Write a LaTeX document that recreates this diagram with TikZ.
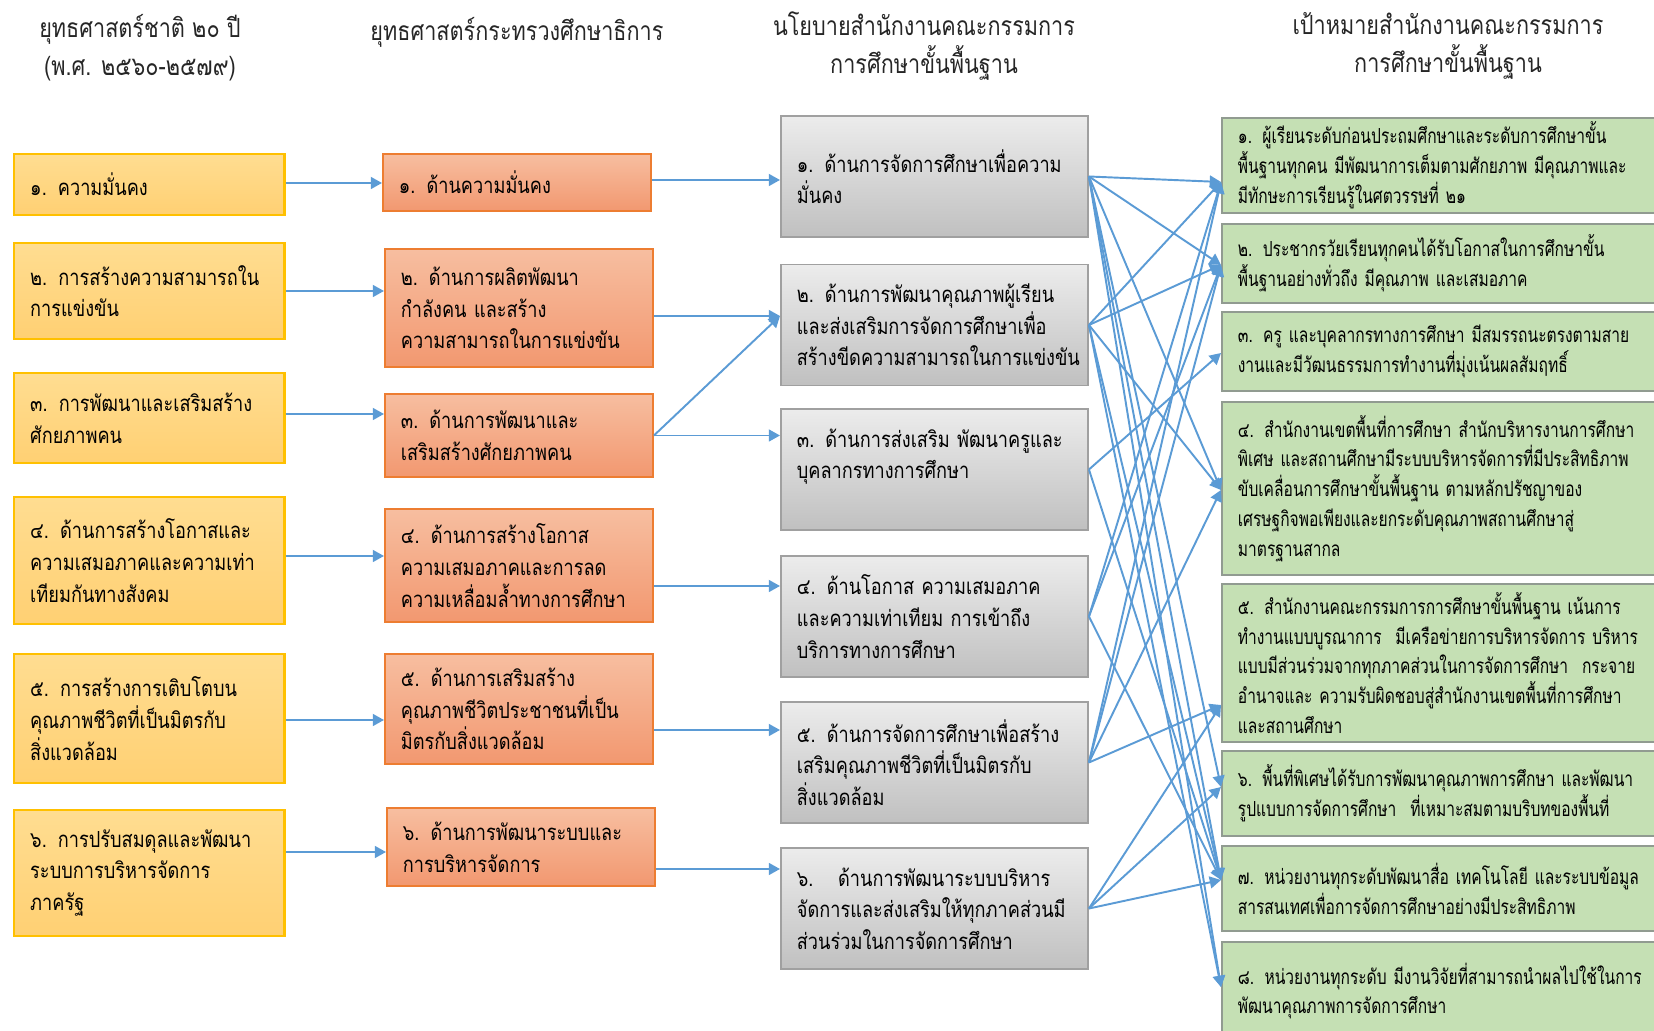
\documentclass[tikz,border=0pt]{standalone}
\usepackage{fontspec}
\setmainfont{Loma}[Script=Thai,FakeStretch=0.82]
\newfontfamily\goalfont[Script=Thai,FakeStretch=0.75]{Loma}
\usetikzlibrary{arrows.meta}

\definecolor{nattop}{RGB}{255,221,145}
\definecolor{natbot}{RGB}{255,208,115}
\definecolor{natline}{RGB}{255,192,0}
\definecolor{moetop}{RGB}{247,190,160}
\definecolor{moebot}{RGB}{242,152,112}
\definecolor{moeline}{RGB}{237,125,49}
\definecolor{poltop}{RGB}{236,236,236}
\definecolor{polbot}{RGB}{192,192,192}
\definecolor{polline}{RGB}{160,160,160}
\definecolor{goalfill}{RGB}{197,224,180}
\definecolor{goalline}{RGB}{145,155,145}
\definecolor{linkblue}{RGB}{91,155,213}

\tikzset{
  txt/.style={font=\fontsize{6.3}{9}\selectfont, align=left, inner xsep=0.16cm, inner ysep=1pt, anchor=west},
  head/.style={font=\fontsize{7.5}{10.8}\selectfont, align=center, text=black!85},
  natbox/.style={txt, draw=natline, line width=0.7pt, top color=nattop, bottom color=natbot, text width=2.38cm, minimum height=#1},
  moebox/.style={txt, draw=moeline, line width=0.5pt, top color=moetop, bottom color=moebot, text width=2.36cm, minimum height=#1},
  polbox/.style={txt, draw=polline, line width=0.5pt, top color=poltop, bottom color=polbot, text width=2.75cm, minimum height=1.21cm},
  goalbox/.style={txt, font=\goalfont\fontsize{5.9}{8.5}\selectfont, draw=goalline, line width=0.5pt, fill=goalfill, text width=4.28cm, minimum height=#1},
  link/.style={linkblue, line width=0.55pt, -{Triangle[length=3.2pt,width=3.4pt]}},
}

\begin{document}
\begin{tikzpicture}[x=0.01cm,y=-0.01cm]
	\useasboundingbox (0,0) rectangle (1654,1031);
	\clip (0,0) rectangle (1654,1031);
	% headings
	\node[head] (h1) at (140,48) {ยุทธศาสตร์ชาติ ๒๐ ปี\\(พ.ศ. ๒๕๖๐-๒๕๗๙)};
	\node[head] (h2) at (517,32) {ยุทธศาสตร์กระทรวงศึกษาธิการ};
	\node[head] (h3) at (924,46) {นโยบายสำนักงานคณะกรรมการ\\การศึกษาขั้นพื้นฐาน};
	\node[head] (h4) at (1448,46) {เป้าหมายสำนักงานคณะกรรมการ\\การศึกษาขั้นพื้นฐาน};

	% national strategy
	\node[natbox=0.61cm] (nat1) at (13,184.5) {๑. ความมั่นคง};
	\node[natbox=0.96cm] (nat2) at (13,291) {๒. การสร้างความสามารถใน\\การแข่งขัน};
	\node[natbox=0.90cm] (nat3) at (13,418) {๓. การพัฒนาและเสริมสร้าง\\ศักยภาพคน};
	\node[natbox=1.27cm] (nat4) at (13,560.5) {๔. ด้านการสร้างโอกาสและ\\ความเสมอภาคและความเท่า\\เทียมกันทางสังคม};
	\node[natbox=1.29cm] (nat5) at (13,718.5) {๕. การสร้างการเติบโตบน\\คุณภาพชีวิตที่เป็นมิตรกับ\\สิ่งแวดล้อม};
	\node[natbox=1.26cm] (nat6) at (13,873) {๖. การปรับสมดุลและพัฒนา\\ระบบการบริหารจัดการ\\ภาครัฐ};

	% ministry strategy
	\node[moebox=0.57cm] (moe1) at (382,182.5) {๑. ด้านความมั่นคง};
	\node[moebox=1.18cm] (moe2) at (384,308) {๒. ด้านการผลิตพัฒนา\\กำลังคน และสร้าง\\ความสามารถในการแข่งขัน};
	\node[moebox=0.83cm] (moe3) at (384,435.5) {๓. ด้านการพัฒนาและ\\เสริมสร้างศักยภาพคน};
	\node[moebox=1.13cm] (moe4) at (384,565.5) {๔. ด้านการสร้างโอกาส\\ความเสมอภาคและการลด\\ความเหลื่อมล้ำทางการศึกษา};
	\node[moebox=1.10cm] (moe5) at (384,709) {๕. ด้านการเสริมสร้าง\\คุณภาพชีวิตประชาชนที่เป็น\\มิตรกับสิ่งแวดล้อม};
	\node[moebox=0.78cm] (moe6) at (386,847) {๖. ด้านการพัฒนาระบบและ\\การบริหารจัดการ};

	% OBEC policy
	\node[polbox] (pol1) at (780,176.5) {๑. ด้านการจัดการศึกษาเพื่อความ\\มั่นคง};
	\node[polbox] (pol2) at (780,325) {๒. ด้านการพัฒนาคุณภาพผู้เรียน\\และส่งเสริมการจัดการศึกษาเพื่อ\\สร้างขีดความสามารถในการแข่งขัน};
	\node[polbox] (pol3) at (780,469.5) {๓. ด้านการส่งเสริม พัฒนาครูและ\\บุคลากรทางการศึกษา\\~};
	\node[polbox] (pol4) at (780,616.5) {๔. ด้านโอกาส ความเสมอภาค\\และความเท่าเทียม การเข้าถึง\\บริการทางการศึกษา};
	\node[polbox] (pol5) at (780,762.5) {๕. ด้านการจัดการศึกษาเพื่อสร้าง\\เสริมคุณภาพชีวิตที่เป็นมิตรกับ\\สิ่งแวดล้อม};
	\node[polbox] (pol6) at (780,908.5) {๖.\hspace{7pt}ด้านการพัฒนาระบบบริหาร\\จัดการและส่งเสริมให้ทุกภาคส่วนมี\\ส่วนร่วมในการจัดการศึกษา};

	% OBEC goals
	\node[goalbox=0.95cm] (goal1) at (1221,165.5) {๑. ผู้เรียนระดับก่อนประถมศึกษาและระดับการศึกษาขั้น\\พื้นฐานทุกคน มีพัฒนาการเต็มตามศักยภาพ มีคุณภาพและ\\มีทักษะการเรียนรู้ในศตวรรษที่ ๒๑};
	\node[goalbox=0.79cm] (goal2) at (1221,263.5) {๒. ประชากรวัยเรียนทุกคนได้รับโอกาสในการศึกษาขั้น\\พื้นฐานอย่างทั่วถึง มีคุณภาพ และเสมอภาค};
	\node[goalbox=0.79cm] (goal3) at (1221,351.5) {๓. ครู และบุคลากรทางการศึกษา มีสมรรถนะตรงตามสาย\\งานและมีวัฒนธรรมการทำงานที่มุ่งเน้นผลสัมฤทธิ์};
	\node[goalbox=1.73cm] (goal4) at (1221,488.5) {๔. สำนักงานเขตพื้นที่การศึกษา สำนักบริหารงานการศึกษา\\พิเศษ และสถานศึกษามีระบบบริหารจัดการที่มีประสิทธิภาพ\\ขับเคลื่อนการศึกษาขั้นพื้นฐาน ตามหลักปรัชญาของ\\เศรษฐกิจพอเพียงและยกระดับคุณภาพสถานศึกษาสู่\\มาตรฐานสากล};
	\node[goalbox=1.58cm] (goal5) at (1221,663) {๕. สำนักงานคณะกรรมการการศึกษาขั้นพื้นฐาน เน้นการ\\ทำงานแบบบูรณาการ\ \ มีเครือข่ายการบริหารจัดการ บริหาร\\แบบมีส่วนร่วมจากทุกภาคส่วนในการจัดการศึกษา\ \ กระจาย\\อำนาจและ ความรับผิดชอบสู่สำนักงานเขตพื้นที่การศึกษา\\และสถานศึกษา};
	\node[goalbox=0.85cm] (goal6) at (1221,793.5) {๖. พื้นที่พิเศษได้รับการพัฒนาคุณภาพการศึกษา และพัฒนา\\รูปแบบการจัดการศึกษา\ \ ที่เหมาะสมตามบริบทของพื้นที่};
	\node[goalbox=0.85cm] (goal7) at (1221,888.5) {๗. หน่วยงานทุกระดับพัฒนาสื่อ เทคโนโลยี และระบบข้อมูล\\สารสนเทศเพื่อการจัดการศึกษาอย่างมีประสิทธิภาพ};
	\node[goalbox=0.98cm] (goal8) at (1221,991) {๘. หน่วยงานทุกระดับ มีงานวิจัยที่สามารถนำผลไปใช้ในการ\\พัฒนาคุณภาพการจัดการศึกษา};

	% national -> ministry
	\draw[link] (nat1.east |- 0,183) -- (moe1.west |- 0,183);
	\draw[link] (nat2.east |- 0,291) -- (moe2.west |- 0,291);
	\draw[link] (nat3.east |- 0,414) -- (moe3.west |- 0,414);
	\draw[link] (nat4.east |- 0,556) -- (moe4.west |- 0,556);
	\draw[link] (nat5.east |- 0,720) -- (moe5.west |- 0,720);
	\draw[link] (nat6.east |- 0,852) -- (moe6.west |- 0,852);

	% ministry -> policy
	\draw[link] (moe1.east |- 0,180) -- (pol1.west |- 0,180);
	\draw[link] (moe2.east |- 0,316) -- (pol2.west |- 0,316);
	\draw[link] (moe3.east) -- (pol2.west |- 0,316);
	\draw[link] (moe3.east) -- (moe3.east -| pol3.west);
	\draw[link] (moe4.east |- 0,586) -- (pol4.west |- 0,586);
	\draw[link] (moe5.east |- 0,730) -- (pol5.west |- 0,730);
	\draw[link] (moe6.east |- 0,869) -- (pol6.west |- 0,869);

	% policy -> goals
	\coordinate (t1) at (goal1.west |- 0,182);
	\coordinate (t2) at (goal2.west |- 0,265);
	\coordinate (t3) at (goal3.west |- 0,353);
	\coordinate (t4) at (goal4.west |- 0,490);
	\coordinate (t5) at (goal5.west |- 0,705);
	\coordinate (t6) at (goal6.west |- 0,787);
	\coordinate (t7) at (goal7.west |- 0,880);
	\coordinate (t8) at (goal8.west |- 0,987);
	\draw[link] (pol1.east) -- (t1);
	\draw[link] (pol1.east) -- (t2);
	\draw[link] (pol1.east) -- (t4);
	\draw[link] (pol1.east) -- (t6);
	\draw[link] (pol1.east) -- (t7);
	\draw[link] (pol1.east) -- (t8);
	\draw[link] (pol2.east) -- (t1);
	\draw[link] (pol2.east) -- (t2);
	\draw[link] (pol2.east) -- (t4);
	\draw[link] (pol2.east) -- (t7);
	\draw[link] (pol2.east) -- (t8);
	\draw[link] (pol3.east) -- (t3);
	\draw[link] (pol3.east) -- (t7);
	\draw[link] (pol4.east) -- (t1);
	\draw[link] (pol4.east) -- (t2);
	\draw[link] (pol4.east) -- (t7);
	\draw[link] (pol5.east) -- (t1);
	\draw[link] (pol5.east) -- (t2);
	\draw[link] (pol5.east) -- (t4);
	\draw[link] (pol5.east) -- (t5);
	\draw[link] (pol6.east) -- (t5);
	\draw[link] (pol6.east) -- (t6);
	\draw[link] (pol6.east) -- (t7);
\end{tikzpicture}
\end{document}
